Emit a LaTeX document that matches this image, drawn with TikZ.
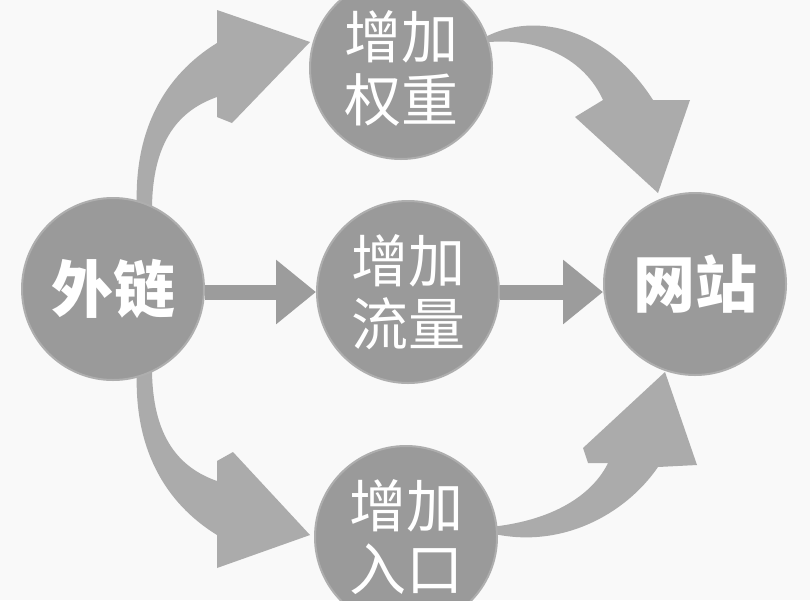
\documentclass[tikz,border=0pt]{standalone}
\usepackage{fontspec}
\newfontfamily\cjk{Noto Sans CJK SC}
\usetikzlibrary{arrows.meta}
\definecolor{bgc}{HTML}{F9F9F9}
\definecolor{circ}{HTML}{9A9A9A}
\definecolor{circedge}{HTML}{AEAEAE}
\definecolor{arr}{HTML}{ABABAB}
\definecolor{sarr}{HTML}{9C9C9C}
\tikzset{
  bubble/.style={circle, inner sep=0pt, minimum size=182pt, fill=circ,
    draw=circedge, line width=2pt, text=white, align=center},
  thintext/.style={font=\cjk\fontsize{57}{63}\selectfont},
  boldtext/.style={font=\cjk\bfseries\fontsize{62}{66}\selectfont},
  blockarrow/.style={fill=arr},
  straightarrow/.style={draw=sarr, line width=15pt,
    -{Triangle[length=40pt,width=62pt]}}
}
\begin{document}
\begin{tikzpicture}[x=1pt,y=-1pt]
\fill[bgc] (0,0) rectangle (810,600);
\useasboundingbox (0,0) rectangle (810,600);
% curved block arrows (behind the circles)
\fill[blockarrow] (137,210) .. controls (133,130) and (165,75) .. (217,43)
  -- (217,10) -- (310,42) -- (232,123) -- (217,117) -- (217,97)
  .. controls (180,110) and (152,140) .. (152,210) -- cycle;
\fill[blockarrow] (137,368) .. controls (133,448) and (165,503) .. (217,535)
  -- (217,568) -- (310,535) -- (233,452) -- (217,461) -- (217,481)
  .. controls (180,468) and (152,438) .. (152,368) -- cycle;
\fill[blockarrow] (480,40) .. controls (530,10) and (605,25) .. (653,100)
  -- (690,100) -- (658,193) -- (575,117) -- (603,100)
  .. controls (585,60) and (540,35) .. (480,43) -- cycle;
\fill[blockarrow] (490,527) .. controls (560,520) and (595,490) .. (608,463)
  -- (588,463) -- (583,448) -- (665,372) -- (697,465) -- (658,467)
  .. controls (625,515) and (560,550) .. (490,533) -- cycle;
% circles
\node[bubble, boldtext] (wl) at (113,289) {外链};
\node[bubble, thintext] (qz) at (401,68) {增加\\权重};
\node[bubble, thintext] (ll) at (408,292) {增加\\流量};
\node[bubble, thintext] (rk) at (406,537) {增加\\入口};
\node[bubble, boldtext] (wz) at (695,284) {网站};
% straight arrows
\draw[straightarrow] (wl.east |- ll.center) -- (ll.west);
\draw[straightarrow] (ll.east) -- (wz.west |- ll.center);
\end{tikzpicture}
\end{document}
